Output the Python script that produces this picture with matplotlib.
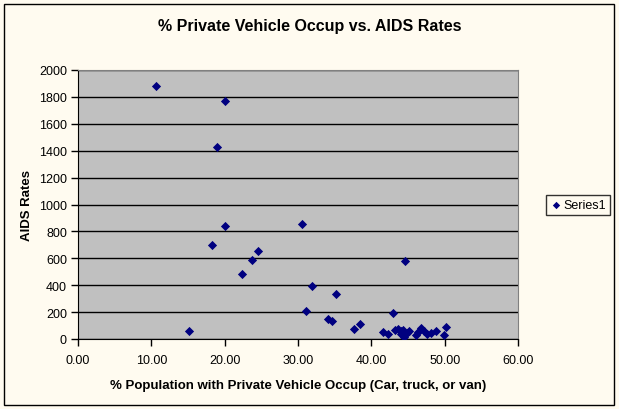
import matplotlib
matplotlib.use("Agg")
import matplotlib.pyplot as plt
from matplotlib.patches import Rectangle
from matplotlib.ticker import FormatStrFormatter, MultipleLocator

plt.rcParams['font.family'] = ['Liberation Sans', 'DejaVu Sans']

x_vals = [10.6, 20.1, 19.0, 20.1, 18.3, 24.5, 23.7, 22.4, 15.1, 30.5, 31.1, 31.9,
          35.2, 34.1, 34.7, 37.7, 38.5, 42.9, 44.6,
          41.6, 42.3, 43.2, 43.7, 44.0, 44.3, 44.0, 44.4, 44.8, 45.2, 46.1, 46.4,
          46.8, 47.2, 47.6, 48.1, 48.8, 49.9, 50.2]
y_vals = [1880, 1770, 1425, 840, 700, 652, 585, 481, 62, 853, 206, 392,
          335, 146, 134, 72, 109, 193, 578,
          55, 35, 70, 75, 60, 70, 40, 15, 45, 60, 30, 55,
          80, 60, 40, 45, 60, 30, 90]

title = "% Private Vehicle Occup vs. AIDS Rates"
xlabel = "% Population with Private Vehicle Occup (Car, truck, or van)"
ylabel = "AIDS Rates"
series_name = "Series1"

W, H = 619, 410
fig = plt.figure(figsize=(W / 100, H / 100), dpi=100)
bg = '#FFFBF0'
fig.patch.set_facecolor(bg)
fig.patches.append(Rectangle((4 / W, 4 / H), (W - 9) / W, (H - 9) / H,
                             transform=fig.transFigure, fill=False,
                             edgecolor='black', linewidth=1.0))

ax = fig.add_axes([78 / W, (H - 340) / H, 440 / W, 269 / H])
ax.set_facecolor('#C0C0C0')
ax.scatter(x_vals, y_vals, marker='D', s=22, color='#000080', zorder=3,
           label=series_name, linewidths=0)

ax.set_xlim(0, 60)
ax.set_ylim(0, 2000)
ax.xaxis.set_major_locator(MultipleLocator(10))
ax.yaxis.set_major_locator(MultipleLocator(200))
ax.xaxis.set_major_formatter(FormatStrFormatter('%.2f'))
ax.yaxis.grid(True, color='black', linewidth=1.0)
ax.set_axisbelow(True)
ax.tick_params(axis='both', direction='out', length=5, width=1, labelsize=9,
               colors='black', pad=3)
ax.tick_params(axis='x', pad=6)
for s in ['top', 'right']:
    ax.spines[s].set_color('#808080')
for s in ['left', 'bottom']:
    ax.spines[s].set_color('black')

ax.set_xlabel(xlabel, fontsize=9.5, fontweight='bold', labelpad=9)
ax.set_ylabel(ylabel, fontsize=9.5, fontweight='bold', labelpad=4)
fig.text(0.5, 1 - 27 / H, title, fontsize=11.5, fontweight='bold',
         ha='center', va='center')

leg = fig.legend(loc='center', bbox_to_anchor=(578 / W, 1 - 206 / H),
                 fontsize=9, frameon=True, fancybox=False, handletextpad=0.1,
                 handlelength=1.0, borderpad=0.3, markerscale=0.8)
leg.get_frame().set_edgecolor('black')
leg.get_frame().set_facecolor(bg)
leg.get_frame().set_linewidth(1.0)

fig.savefig('out.png', dpi=100, facecolor=bg)
